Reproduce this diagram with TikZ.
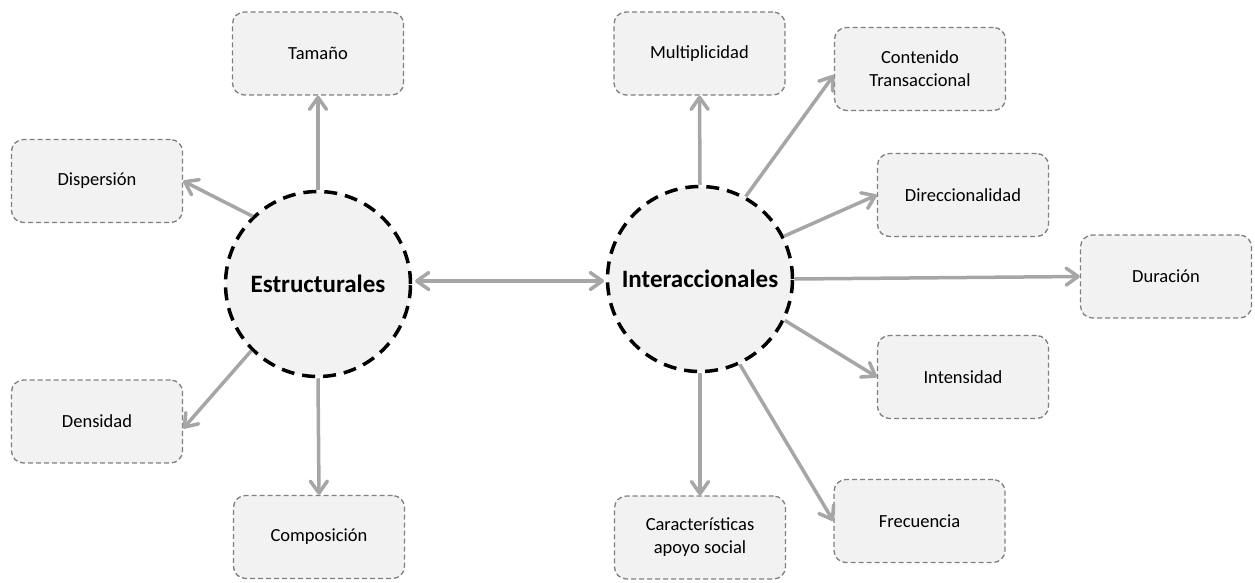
\documentclass[tikz,border=0pt]{standalone}
\usepackage{fontspec}
\setmainfont{Carlito}
\usetikzlibrary{arrows.meta}
\definecolor{boxfill}{HTML}{F2F2F2}
\definecolor{boxline}{HTML}{7F7F7F}
\definecolor{arr}{HTML}{A6A6A6}
\tikzset{
  item/.style={draw=boxline, fill=boxfill, line width=1.3pt, dash pattern=on 5pt off 3pt,
    rounded corners=12pt, minimum width=171pt, minimum height=83pt, align=center,
    font=\fontsize{18.5}{23}\selectfont, inner sep=0pt},
  hub/.style={circle, draw=black, fill=boxfill, line width=3.5pt, dash pattern=on 13pt off 8pt,
    minimum size=185pt, inner sep=0pt, font=\fontsize{25}{30}\selectfont\bfseries},
  tip/.tip={Straight Barb[length=12pt,width=17pt,round]},
  link/.style={draw=arr, line width=3.5pt, -tip},
  blink/.style={draw=arr, line width=3.5pt, tip-tip}
}
\begin{document}
\begin{tikzpicture}[x=1pt,y=-1pt]
\useasboundingbox (0,0) rectangle (1255,582);
\node[hub] (E) at (318,284) {Estructurales};
\node[hub] (I) at (700,279) {Interaccionales};
\node[item] (tam) at (318,53.5) {Tamaño};
\node[item] (disp) at (97,181) {Dispersión};
\node[item] (dens) at (97,421.5) {Densidad};
\node[item] (comp) at (319,537) {Composición};
\node[item] (mult) at (699.5,53.5) {Multiplicidad};
\node[item] (cont) at (920,69) {Contenido\\Transaccional};
\node[item] (dir) at (963,195) {Direccionalidad};
\node[item] (dur) at (1166,276.5) {Duración};
\node[item] (int) at (963,377) {Intensidad};
\node[item] (frec) at (919.5,521) {Frecuencia};
\node[item] (car) at (700,537.5) {Características\\apoyo social};
\coordinate (dl) at (415,281);
\coordinate (dr) at (604,281);
\draw[link] (E.north) -- (tam.south);
\draw[link] (E.134) -- (disp.east);
\draw[link] (E.225) -- ([yshift=-7pt]dens.east);
\draw[link] (E.south) -- (comp.north);
\draw[blink] (dl) -- (dr);
\draw[link] (I.north) -- (mult.south);
\draw[link] (I.61) -- ([yshift=-6pt]cont.west);
\draw[link] (I.27) -- (dir.west);
\draw[link] (I.east) -- (dur.west);
\draw[link] (I.-26) -- (int.west);
\draw[link] (I.-65) -- (frec.west);
\draw[link] (I.south) -- (car.north);
\end{tikzpicture}
\end{document}
